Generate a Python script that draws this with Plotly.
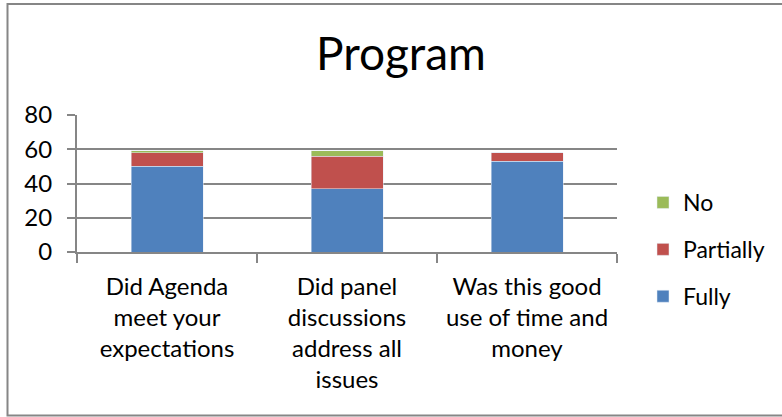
import plotly.graph_objects as go

categories = ["Did Agenda<br>meet your<br>expectations",
              "Did panel<br>discussions<br>address all<br>issues",
              "Was this good<br>use of time and<br>money"]
fully = [50, 37, 53]
partially = [8, 19, 5]
no = [1, 3, 0]
y_ticks = [0, 20, 40, 60, 80]

FONT = "Lato"
fig = go.Figure()
fig.add_trace(go.Bar(name="Fully", x=categories, y=fully, marker_color="#4F81BD",
                     legendgroup="a", legendrank=3))
fig.add_trace(go.Bar(name="Partially", x=categories, y=partially, marker_color="#C0504D",
                     legendgroup="b", legendrank=2))
fig.add_trace(go.Bar(name="No", x=categories, y=no, marker_color="#9BBB59",
                     legendgroup="c", legendrank=1))

W, H = 782, 417
L, R, T, B = 77, 165, 115, 165
pw, ph = W - L - R, H - T - B

def px_to_paper_x(x):
    return (x - L) / pw

def px_to_paper_y(y):
    return (H - B - y) / ph

fig.update_layout(
    width=W, height=H,
    barmode="stack", bargap=0.6,
    margin=dict(l=L, r=R, t=T, b=B, autoexpand=False),
    paper_bgcolor="white", plot_bgcolor="white",
    font=dict(family=FONT, size=22, color="black"),
    showlegend=True,
    legend=dict(traceorder="grouped", tracegroupgap=14,
                x=px_to_paper_x(643), y=px_to_paper_y(181), xanchor="left", yanchor="top",
                font=dict(size=23), itemwidth=30),
    xaxis=dict(showline=True, linecolor="#868686", linewidth=2,
               ticks="outside", ticklen=9, tickcolor="#868686", tickwidth=2,
               tickson="boundaries", tickfont=dict(size=24), ticklabelstandoff=12),
    yaxis=dict(range=[0, 80], tickvals=y_ticks, showline=True, linecolor="#868686", linewidth=2,
               ticks="outside", ticklen=8, tickcolor="#868686", tickwidth=2,
               showgrid=True, gridcolor="#868686", gridwidth=2,
               tickfont=dict(size=24), ticklabelstandoff=10, zeroline=False),
    shapes=[dict(type="rect", xref="paper", yref="paper",
                 x0=px_to_paper_x(7.5), x1=px_to_paper_x(900),
                 y0=px_to_paper_y(415.5), y1=px_to_paper_y(4),
                 line=dict(color="#868686", width=2), fillcolor="rgba(0,0,0,0)", layer="below")],
    annotations=[dict(text="Program", xref="paper", yref="paper",
                      x=px_to_paper_x(401), y=px_to_paper_y(52), xanchor="center", yanchor="middle",
                      showarrow=False, font=dict(family=FONT, size=46, color="black"))],
)

fig.write_html("out.html", config={"displayModeBar": False},
               post_script="document.body.style.margin='0';document.body.style.overflow='hidden';")
